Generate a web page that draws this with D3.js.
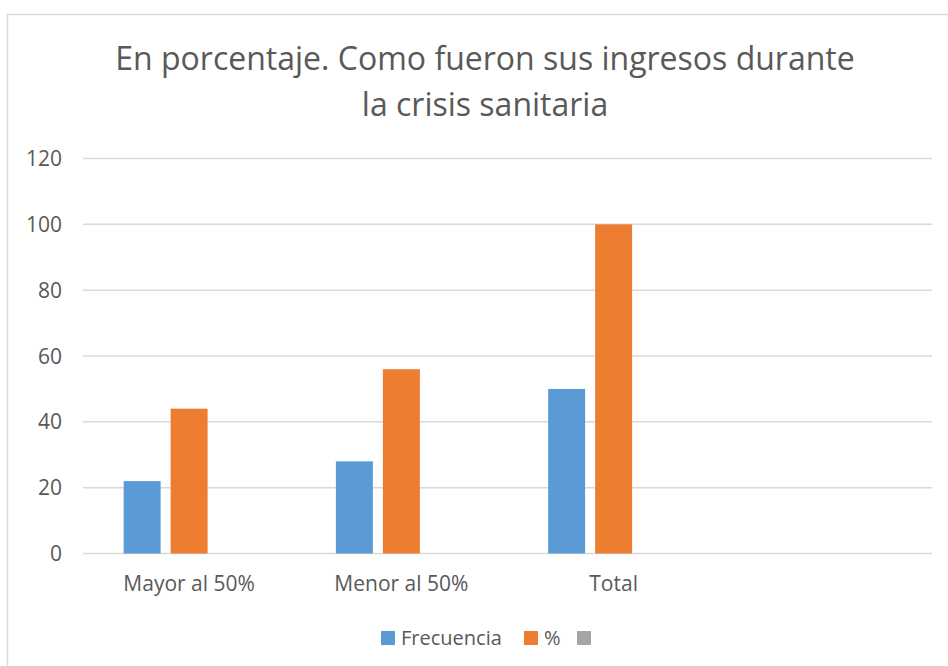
<!DOCTYPE html>
<html>
<head>
<meta charset="utf-8">
<script src="https://cdn.jsdelivr.net/npm/d3@7"></script>
<style>
    body { margin: 0; background: #fff; }
    text { font-family: "Open Sans", "Noto Sans", sans-serif; fill: #595959; }
</style>
</head>
<body>
<div id="chart"></div>
<script>
var WIDTH = 948;
var HEIGHT = 666;

// Data
var categories = ["Mayor al 50%", "Menor al 50%", "Total", ""];
var seriesNames = ["Frecuencia", "%", ""];
var frecuencia = [22, 28, 50, null];
var porcentaje = [44, 56, 100, null];
var empty = [null, null, null, null];
var yTicks = [0, 20, 40, 60, 80, 100, 120];
var colors = ["#5B9BD5", "#ED7D31", "#A5A5A5"];

var seriesValues = [frecuencia, porcentaje, empty];

var svg = d3.select("#chart").append("svg")
    .attr("width", WIDTH)
    .attr("height", HEIGHT);

// chart area border
svg.append("rect")
    .attr("x", 7.5)
    .attr("y", 14.5)
    .attr("width", 960)
    .attr("height", 700)
    .attr("fill", "none")
    .attr("stroke", "#d9d9d9")
    .attr("stroke-width", 1.5);

// Title
var title = svg.append("text")
    .attr("text-anchor", "middle")
    .attr("font-size", 32);
title.append("tspan").attr("x", 485).attr("y", 70)
    .text("En porcentaje. Como fueron sus ingresos durante");
title.append("tspan").attr("x", 485).attr("y", 116)
    .text("la crisis sanitaria");

var x = d3.scaleBand().domain(categories).range([83, 932]);
var xs = d3.scaleBand().domain(d3.range(seriesNames.length))
    .range([0, x.bandwidth()])
    .paddingInner(0.213)
    .paddingOuter(0.865);
var y = d3.scaleLinear().domain([0, 120]).range([553.5, 158.5]);

// gridlines
svg.append("g")
    .selectAll("line")
    .data(yTicks)
    .enter().append("line")
    .attr("x1", 83)
    .attr("x2", 932)
    .attr("y1", function(d) { return y(d); })
    .attr("y2", function(d) { return y(d); })
    .attr("stroke", "#d9d9d9")
    .attr("stroke-width", 1.5);

// y labels
svg.append("g")
    .selectAll("text")
    .data(yTicks)
    .enter().append("text")
    .attr("x", 62)
    .attr("y", function(d) { return y(d); })
    .attr("dy", "0.36em")
    .attr("text-anchor", "end")
    .attr("font-size", 21)
    .text(function(d) { return d; });

// bars
seriesValues.forEach(function(vals, s) {
    svg.append("g")
        .selectAll("rect")
        .data(vals.map(function(v, i) { return { cat: categories[i], value: v }; })
            .filter(function(d) { return d.value != null; }))
        .enter().append("rect")
        .attr("x", function(d) { return x(d.cat) + xs(s); })
        .attr("width", xs.bandwidth())
        .attr("y", function(d) { return y(d.value); })
        .attr("height", function(d) { return y(0) - y(d.value); })
        .attr("fill", colors[s]);
});

// category labels
svg.append("g")
    .selectAll("text")
    .data(categories)
    .enter().append("text")
    .attr("x", function(d) { return x(d) + x.bandwidth() / 2; })
    .attr("y", 591)
    .attr("text-anchor", "middle")
    .attr("font-size", 21)
    .text(function(d) { return d; });

// legend
var legendX = [381, 524, 577];
var legend = svg.append("g")
    .selectAll("g")
    .data(seriesNames)
    .enter().append("g")
    .attr("transform", function(d, i) { return "translate(" + legendX[i] + ",631)"; });
legend.append("rect")
    .attr("width", 14)
    .attr("height", 14)
    .attr("fill", function(d, i) { return colors[i]; });
legend.append("text")
    .attr("x", 20)
    .attr("y", 14)
    .attr("font-size", 20)
    .text(function(d) { return d; });
</script>
</body>
</html>
